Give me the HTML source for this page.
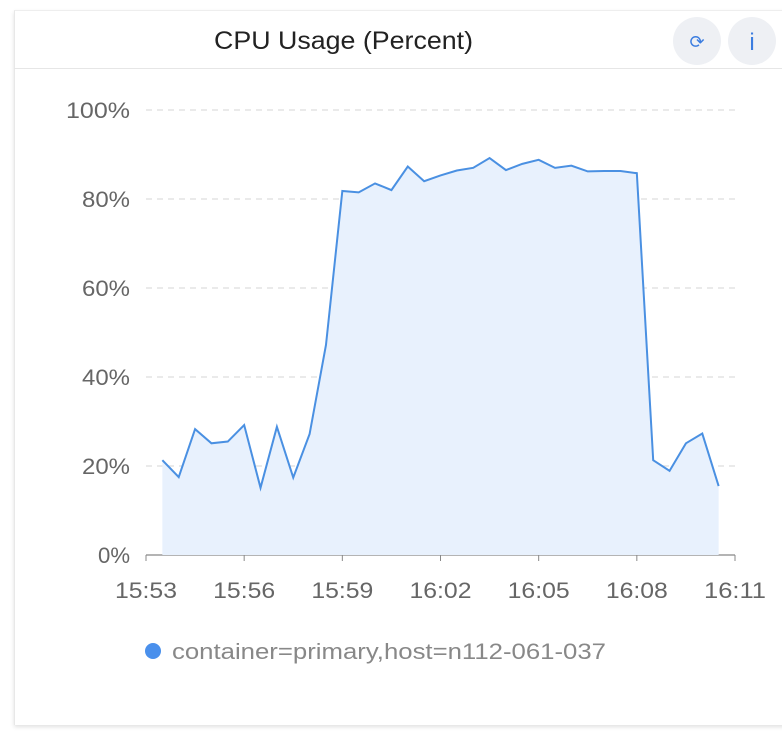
<!DOCTYPE html>
<html><head><meta charset="utf-8"><style>
html,body{margin:0;padding:0;background:#fff;width:782px;height:732px;overflow:hidden;font-family:"Liberation Sans",sans-serif}
#card{position:absolute;left:14px;top:10px;width:790px;height:714px;background:#fff;border-left:1px solid #e8e8e8;border-top:1px solid #eee;box-shadow:0 2px 4px rgba(0,0,0,0.12)}
#hdr{position:absolute;left:14px;top:68px;width:790px;height:1px;background:#e6e6e6}
</style></head><body>
<div id="card"></div>
<div id="hdr"></div>
<svg width="782" height="732" style="position:absolute;left:0;top:0" id="chart">
<text x="214" y="49" textLength="259" lengthAdjust="spacingAndGlyphs" font-size="25" fill="#222">CPU Usage (Percent)</text>
<g><circle cx="697" cy="41" r="24" fill="#eef0f4"/><text x="697" y="48" text-anchor="middle" font-size="18" fill="#3b7de0">⟳</text></g>
<g><circle cx="752" cy="41" r="24" fill="#eef0f4"/><text x="752" y="50" text-anchor="middle" font-size="24" fill="#3b7de0">i</text></g>
<g id="grid"></g><g id="series"></g><g id="axes"></g>
<g><circle cx="153" cy="651" r="8" fill="#4a90ec"/><text x="172" y="659" font-size="22" textLength="434" lengthAdjust="spacingAndGlyphs" fill="#888">container=primary,host=n112-061-037</text></g>
</svg>
<script>
const yTicks=[0,20,40,60,80,100];
const xTickLabels=["15:53","15:56","15:59","16:02","16:05","16:08","16:11"];
const xTickMinutes=[0,3,6,9,12,15,18];
const values=[21.3,17.5,28.3,25.1,25.5,29.2,15.1,28.8,17.4,27.2,47.2,81.8,81.5,83.5,82.0,87.3,84.0,85.3,86.4,87.0,89.2,86.5,87.9,88.8,87.0,87.5,86.2,86.3,86.3,85.8,21.3,18.9,25.1,27.3,15.5];
const ns="http://www.w3.org/2000/svg";
function X(min){return 146+min*(589/18);}
function Y(v){return 555-v*4.45;}
const grid=document.getElementById('grid'),ser=document.getElementById('series'),ax=document.getElementById('axes');
yTicks.forEach(v=>{
 const l=document.createElementNS(ns,'line');
 
 
 l.setAttribute('x1',146);l.setAttribute('x2',735);l.setAttribute('y1',Y(v));l.setAttribute('y2',Y(v));
 l.setAttribute('stroke',v===0?'#888':'#e3e3e3');l.setAttribute('stroke-width',v===0?1.2:1.5);
 if(v!==0)l.setAttribute('stroke-dasharray','6 5');
 grid.appendChild(l);
 const t=document.createElementNS(ns,'text');
 
 
 const s=v+'%';
 t.setAttribute('x',130);t.setAttribute('y',Y(v)+8);t.setAttribute('text-anchor','end');t.setAttribute('font-size','22');t.setAttribute('fill','#666');
 t.setAttribute('textLength',s.length*16);t.setAttribute('lengthAdjust','spacingAndGlyphs');
 t.textContent=s;ax.appendChild(t);
});
xTickMinutes.forEach((m,i)=>{
 const l=document.createElementNS(ns,'line');
 
 
 l.setAttribute('x1',X(m));l.setAttribute('x2',X(m));l.setAttribute('y1',555);l.setAttribute('y2',561);l.setAttribute('stroke','#888');
 ax.appendChild(l);
 const t=document.createElementNS(ns,'text');
 
 
 t.setAttribute('x',X(m));t.setAttribute('y',598);t.setAttribute('text-anchor','middle');t.setAttribute('font-size','22');t.setAttribute('fill','#666');
 t.setAttribute('textLength',62);t.setAttribute('lengthAdjust','spacingAndGlyphs');
 t.textContent=xTickLabels[i];ax.appendChild(t);
});
const pts=values.map((v,i)=>[X(0.5+i*0.5),Y(v)]);
const area=document.createElementNS(ns,'path');


area.setAttribute('d','M'+pts[0][0]+','+Y(0)+' L'+pts.map(p=>p.join(',')).join(' L')+' L'+pts[pts.length-1][0]+','+Y(0)+'Z');
area.setAttribute('fill','#e8f1fd');ser.appendChild(area);
const line=document.createElementNS(ns,'path');


line.setAttribute('d','M'+pts.map(p=>p.join(',')).join(' L'));
line.setAttribute('fill','none');line.setAttribute('stroke','#4a90e2');line.setAttribute('stroke-width','2');
ser.appendChild(line);
</script>
</body></html>
